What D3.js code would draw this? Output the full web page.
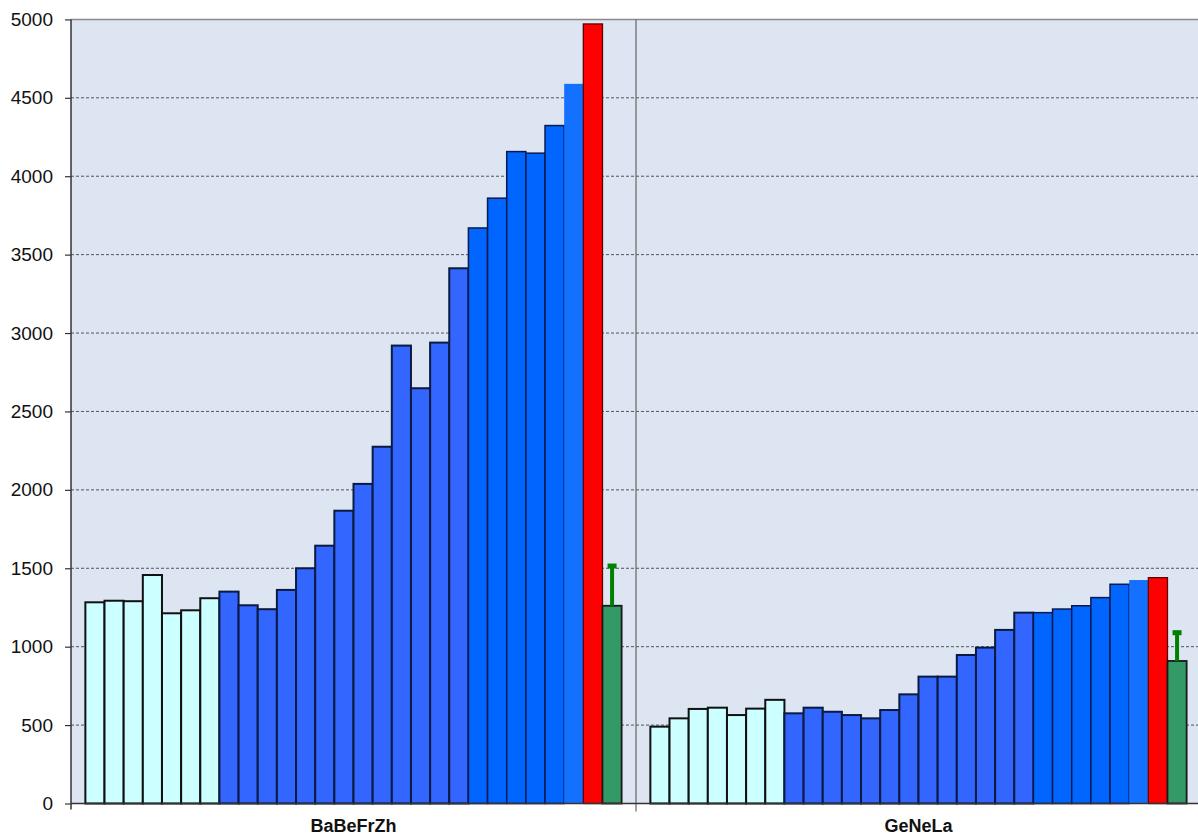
<!DOCTYPE html>
<html lang="en">
<head>
    <meta charset="utf-8">
    <title>BaBeFrZh / GeNeLa</title>
    <script src="https://d3js.org/d3.v7.min.js"></script>
    <style>
        body, html {
            margin: 0;
            padding: 0;
            background: #ffffff;
        }
        svg {
            display: block;
            font-family: "Liberation Sans", Arial, sans-serif;
        }
        .grid line {
            stroke: #555555;
            stroke-width: 1;
            stroke-dasharray: 3, 2;
        }
    </style>
</head>
<body>
<div id="chart"></div>

<script type="text/javascript">
    // Values
    var groups = ["BaBeFrZh", "GeNeLa"];

    // kind of each bar, same order in both groups
    var barKinds = [
        "old", "old", "old", "old", "old", "old", "old",
        "mid", "mid", "mid", "mid", "mid", "mid", "mid", "mid", "mid", "mid", "mid", "mid", "mid",
        "recent", "recent", "recent", "recent", "recent",
        "latest", "peak", "mean"
    ];

    var babefrzhValues = [1283, 1293, 1290, 1457, 1213, 1232, 1309,
        1351, 1264, 1239, 1362, 1500, 1644, 1867, 2038, 2275, 2920, 2648, 2939, 3413,
        3670, 3860, 4157, 4147, 4323,
        4589, 4971, 1261];

    var genelaValues = [490, 543, 603, 611, 564, 605, 661,
        575, 611, 585, 564, 543, 596, 696, 809, 809, 947, 994, 1107, 1217,
        1217, 1240, 1261, 1313, 1398,
        1425, 1440, 909];

    // upper end of the error bar on the last bar of each group
    var errorHigh = [1527, 1102];

    var yTicks = [0, 500, 1000, 1500, 2000, 2500, 3000, 3500, 4000, 4500, 5000];

    var kindFill = {
        old: "#ccffff",
        mid: "#3366ff",
        recent: "#0066ff",
        latest: "#1470ff",
        peak: "#ff0000",
        mean: "#339966"
    };
    var kindStroke = {
        old: "#111111",
        mid: "#0a1a40",
        recent: "#0a1a50",
        latest: "none",
        peak: "#600000",
        mean: "#1a1a1a"
    };
    var kindStrokeWidth = {
        old: 2,
        mid: 2,
        recent: 1.5,
        latest: 0,
        peak: 1.3,
        mean: 1.8
    };

    var w = 1198;
    var h = 836;
    var plotLeft = 71;
    var plotRight = 1201;
    var plotTop = 19.4;
    var plotBottom = 803.5;

    var svg = d3.select("#chart")
        .append("svg")
        .attr("width", w)
        .attr("height", h);

    // Scales
    var groupScale = d3.scaleBand()
        .domain(groups)
        .range([plotLeft, plotRight])
        .padding(0);

    var barScale = d3.scaleBand()
        .domain(d3.range(barKinds.length))
        .range([0, groupScale.bandwidth()])
        .paddingInner(0)
        .paddingOuter(0.75);

    var yScale = d3.scaleLinear()
        .domain([0, 5000])
        .range([plotBottom, plotTop]);

    // Plot background
    svg.append("rect")
        .attr("x", plotLeft)
        .attr("y", plotTop)
        .attr("width", plotRight - plotLeft)
        .attr("height", plotBottom - plotTop)
        .attr("fill", "#dce5f1");

    // Dashed gridlines
    svg.append("g")
        .attr("class", "grid")
        .selectAll("line")
        .data(yTicks.filter(function (d) { return d > 0 && d < 5000; }))
        .enter()
        .append("line")
        .attr("x1", plotLeft)
        .attr("x2", plotRight)
        .attr("y1", function (d) { return yScale(d); })
        .attr("y2", function (d) { return yScale(d); });

    // Top border of the plot
    svg.append("line")
        .attr("x1", plotLeft)
        .attr("x2", plotRight)
        .attr("y1", yScale(5000))
        .attr("y2", yScale(5000))
        .attr("stroke", "#8a8a8a")
        .attr("stroke-width", 1.5);

    // Separator between the two groups
    svg.append("line")
        .attr("x1", groupScale("GeNeLa"))
        .attr("x2", groupScale("GeNeLa"))
        .attr("y1", plotTop)
        .attr("y2", plotBottom + 8)
        .attr("stroke", "#666666")
        .attr("stroke-width", 1.2);

    // Bars
    var series = [babefrzhValues, genelaValues];

    groups.forEach(function (g, gi) {
        var rows = series[gi].map(function (v, i) {
            return {index: i, value: v, kind: barKinds[i]};
        });

        var gEl = svg.append("g")
            .attr("transform", "translate(" + groupScale(g) + ",0)");

        gEl.selectAll("rect")
            .data(rows)
            .enter()
            .append("rect")
            .attr("x", function (d) { return barScale(d.index); })
            .attr("y", function (d) { return yScale(d.value); })
            .attr("width", barScale.bandwidth())
            .attr("height", function (d) { return yScale(0) - yScale(d.value); })
            .attr("fill", function (d) { return kindFill[d.kind]; })
            .attr("stroke", function (d) { return kindStroke[d.kind]; })
            .attr("stroke-width", function (d) { return kindStrokeWidth[d.kind]; });

        // error bar on the mean bar
        var last = rows[rows.length - 1];
        var cx = barScale(last.index) + barScale.bandwidth() / 2;
        gEl.append("line")
            .attr("x1", cx)
            .attr("x2", cx)
            .attr("y1", yScale(last.value))
            .attr("y2", yScale(errorHigh[gi]))
            .attr("stroke", "#008000")
            .attr("stroke-width", 4);
        gEl.append("line")
            .attr("x1", cx - 4.5)
            .attr("x2", cx + 4.5)
            .attr("y1", yScale(errorHigh[gi]) + 2)
            .attr("y2", yScale(errorHigh[gi]) + 2)
            .attr("stroke", "#008000")
            .attr("stroke-width", 5);
    });

    // Y axis
    var yAxis = d3.axisLeft(yScale)
        .tickValues(yTicks)
        .tickFormat(d3.format("d"))
        .tickSize(6)
        .tickPadding(12);

    var yG = svg.append("g")
        .attr("transform", "translate(" + plotLeft + ",0)")
        .call(yAxis);
    yG.select(".domain")
        .attr("d", "M0," + plotTop + "V" + (plotBottom + 6))
        .attr("stroke", "#333333")
        .attr("stroke-width", 1.5);
    yG.selectAll(".tick line")
        .attr("stroke", "#333333")
        .attr("stroke-width", 1.2);
    yG.selectAll(".tick text")
        .attr("font-size", 19)
        .attr("font-family", "Liberation Sans, Arial, sans-serif")
        .attr("fill", "#111111");

    // X axis line with group labels
    svg.append("line")
        .attr("x1", plotLeft)
        .attr("x2", plotRight)
        .attr("y1", plotBottom)
        .attr("y2", plotBottom)
        .attr("stroke", "#333333")
        .attr("stroke-width", 1.5);

    svg.selectAll(".group-label")
        .data(groups)
        .enter()
        .append("text")
        .attr("class", "group-label")
        .attr("x", function (d) { return groupScale(d) + groupScale.bandwidth() / 2; })
        .attr("y", 832)
        .attr("text-anchor", "middle")
        .attr("font-size", 18)
        .attr("font-weight", "bold")
        .attr("fill", "#111111")
        .text(function (d) { return d; });
</script>
</body>
</html>
